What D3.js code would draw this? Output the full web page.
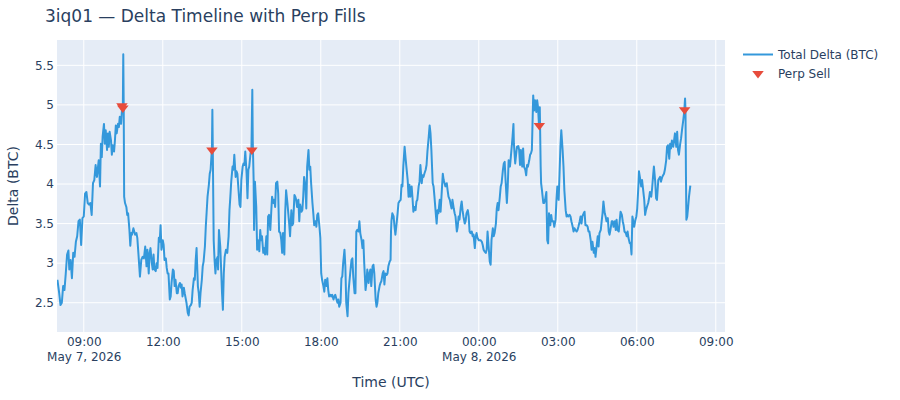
<!DOCTYPE html>
<html>
<head>
<meta charset="utf-8">
<script src="https://cdn.jsdelivr.net/npm/d3@7"></script>
<style>
  body { margin: 0; background: #fff; }
  text { font-family: "DejaVu Sans", verdana, arial, sans-serif; fill: #2a3f5f; }
</style>
</head>
<body>
<div id="chart"></div>
<script>
// time is minutes elapsed since 2026-05-07 08:00 UTC
var startUTC = Date.UTC(2026, 4, 7, 8, 0);

// [elapsed minutes, total delta BTC]
var deltaTrace = [
  [0,2.79],[4,2.62],[7,2.47],[10,2.50],[13,2.71],[16,2.66],[19,2.87],[22,3.11],[25,3.16],[27,2.92],
  [30,3.04],[33,2.81],[36,3.13],[39,3.08],[42,3.27],[45,3.34],[48,3.53],[51,3.55],[54,3.23],[57,3.57],
  [60,3.59],[63,3.88],[66,3.90],[69,3.76],[72,3.74],[75,3.76],[78,3.61],[81,4.01],[84,4.05],[87,4.24],
  [90,4.09],[94,4.30],[97,3.97],[99,4.51],[101,4.34],[103,4.60],[106,4.76],[108,4.51],[110,4.68],[113,4.43],
  [115,4.64],[117,4.47],[119,4.66],[122,4.55],[124,4.37],[126,4.49],[129,4.41],[131,4.55],[133,4.74],[135,4.64],
  [138,4.76],[140,4.72],[142,4.85],[145,4.76],[147,4.93],[149,4.97],[150,5.64],[151,4.97],[152,3.84],[154,3.76],
  [157,3.71],[159,3.61],[161,3.63],[164,3.42],[166,3.22],[168,3.38],[170,3.36],[173,3.44],[175,3.40],[177,3.36],
  [180,3.38],[182,3.32],[185,3.08],[188,2.83],[191,3.04],[194,3.08],[197,3.06],[200,3.21],[203,2.96],[205,3.17],
  [208,2.87],[210,3.13],[212,3.19],[215,3.00],[217,2.92],[219,3.11],[221,2.92],[224,2.90],[226,3.00],[228,2.94],
  [231,3.32],[233,3.27],[235,3.48],[237,3.17],[240,3.29],[242,3.23],[244,3.04],[247,3.06],[249,2.94],[251,2.87],
  [253,2.87],[256,2.54],[258,2.58],[260,2.75],[263,2.92],[265,2.90],[267,2.71],[269,2.79],[272,2.62],[274,2.62],
  [276,2.71],[279,2.75],[281,2.69],[283,2.73],[285,2.58],[288,2.69],[290,2.62],[292,2.56],[294,2.50],[297,2.37],
  [299,2.34],[301,2.45],[304,2.47],[306,2.50],[308,2.66],[311,2.81],[313,2.79],[315,3.04],[317,3.19],[320,2.71],
  [322,2.62],[324,2.45],[326,2.62],[329,2.79],[331,2.96],[333,3.02],[336,3.21],[338,3.46],[340,3.65],[342,3.84],
  [345,3.99],[347,4.13],[349,4.18],[352,4.45],[353,4.94],[354,4.43],[355,3.84],[356,3.29],[358,3.04],[360,2.87],
  [362,3.04],[365,3.08],[366,2.92],[368,3.42],[371,3.21],[373,2.92],[375,2.62],[377,2.41],[379,2.87],[381,3.08],
  [384,3.17],[387,3.13],[390,3.34],[392,3.67],[394,3.84],[396,4.03],[399,4.22],[401,4.18],[403,4.37],[406,4.09],
  [408,4.16],[410,4.13],[412,3.97],[415,3.74],[417,3.71],[419,4.05],[422,4.22],[424,4.26],[426,4.24],[428,4.41],
  [431,4.13],[433,3.82],[435,4.18],[437,4.22],[440,4.39],[442,4.43],[444,5.19],[445,4.55],[447,4.05],[448,3.42],
  [450,4.03],[453,3.71],[455,3.17],[457,3.29],[460,3.15],[462,3.42],[464,3.29],[466,3.34],[469,3.13],[471,3.19],
  [473,3.11],[476,3.34],[478,3.11],[480,3.59],[482,3.61],[485,3.42],[487,3.63],[489,3.84],[492,3.76],[494,3.80],
  [496,3.71],[498,4.01],[501,4.03],[503,3.88],[505,3.40],[508,3.38],[510,3.29],[512,3.13],[514,3.38],[517,3.11],
  [519,3.65],[521,3.92],[524,3.76],[526,3.63],[528,3.50],[530,3.34],[533,3.67],[535,3.48],[537,3.50],[540,3.86],
  [542,3.84],[544,3.80],[546,3.71],[549,3.80],[551,3.53],[553,3.74],[556,3.65],[558,3.67],[560,3.84],[562,4.09],
  [565,3.97],[567,3.69],[569,4.22],[572,4.43],[574,4.18],[576,4.22],[578,4.01],[581,3.76],[583,3.63],[585,3.48],
  [588,3.53],[590,3.46],[592,3.61],[594,3.63],[597,3.46],[599,3.32],[601,2.87],[603,2.79],[606,2.71],[608,2.64],
  [610,2.79],[613,2.71],[615,2.81],[617,2.66],[619,2.58],[622,2.60],[624,2.58],[626,2.60],[629,2.54],[631,2.58],
  [633,2.60],[635,2.56],[638,2.50],[640,2.54],[642,2.45],[645,2.50],[647,2.81],[649,2.83],[651,3.00],[654,3.17],
  [656,2.96],[658,2.50],[661,2.33],[663,2.62],[665,2.75],[667,2.87],[670,3.04],[672,3.06],[674,2.83],[677,2.62],
  [679,2.62],[681,3.40],[683,3.42],[686,3.40],[688,3.53],[690,3.38],[693,3.29],[695,3.19],[697,3.29],[699,3.00],
  [702,2.66],[704,2.75],[706,2.92],[709,2.75],[711,2.87],[713,2.92],[715,2.71],[718,2.96],[720,2.98],[722,2.87],
  [725,2.54],[727,2.45],[729,2.50],[731,2.62],[734,2.71],[736,2.75],[738,2.77],[741,2.87],[743,2.90],[745,2.73],
  [747,2.87],[750,2.85],[752,2.87],[754,2.96],[757,3.02],[759,3.04],[760,3.40],[761,3.53],[763,3.63],[766,3.59],
  [768,3.46],[770,3.36],[772,3.46],[775,3.63],[777,3.76],[779,3.78],[782,3.80],[784,3.99],[786,3.97],[788,4.22],
  [791,4.47],[793,4.34],[795,4.22],[798,4.05],[800,3.84],[802,3.99],[804,3.84],[807,3.97],[809,3.82],[811,3.65],
  [814,3.71],[816,3.67],[818,3.78],[820,3.80],[823,3.97],[825,4.03],[827,4.24],[830,4.01],[832,4.11],[834,4.09],
  [836,4.13],[839,4.18],[841,4.24],[843,4.41],[846,4.60],[848,4.74],[850,4.64],[852,4.43],[855,4.01],[857,3.97],
  [859,3.84],[862,3.63],[864,3.50],[866,3.67],[868,3.63],[871,3.80],[873,3.65],[875,3.84],[878,4.13],[880,4.05],
  [882,4.01],[884,3.97],[887,4.01],[889,3.92],[891,3.84],[894,3.80],[896,3.74],[898,3.69],[900,3.80],[903,3.69],
  [905,3.63],[907,3.59],[910,3.40],[912,3.46],[914,3.59],[916,3.55],[919,3.71],[921,3.78],[923,3.67],[925,3.59],
  [928,3.50],[930,3.53],[932,3.63],[935,3.67],[937,3.59],[939,3.40],[941,3.38],[944,3.40],[946,3.34],[948,3.36],
  [951,3.19],[953,3.34],[955,3.38],[957,3.32],[960,3.29],[962,3.29],[964,3.29],[967,3.27],[969,3.23],[971,3.17],
  [973,3.15],[976,3.13],[978,3.17],[980,3.40],[983,3.17],[985,3.02],[987,2.98],[989,3.29],[992,3.44],[994,3.34],
  [996,3.38],[999,3.50],[1001,3.69],[1003,3.76],[1005,3.67],[1008,3.84],[1010,3.97],[1012,4.01],[1015,4.18],[1017,4.26],
  [1019,4.28],[1021,4.05],[1024,3.76],[1026,3.97],[1028,4.30],[1031,4.22],[1033,4.34],[1035,4.47],[1037,4.60],[1039,4.76],
  [1040,4.51],[1043,4.26],[1045,4.37],[1047,4.47],[1050,4.48],[1052,4.43],[1054,4.24],[1056,4.43],[1059,4.22],[1061,4.45],
  [1063,4.22],[1066,4.18],[1068,4.11],[1070,4.24],[1072,4.22],[1075,4.30],[1077,4.37],[1079,4.39],[1081,4.43],[1084,5.12],
  [1086,4.93],[1088,5.06],[1091,4.91],[1093,5.06],[1095,4.97],[1097,4.76],[1099,4.97],[1101,4.22],[1102,4.01],[1104,3.92],
  [1107,3.76],[1109,3.76],[1111,3.80],[1114,3.90],[1116,3.29],[1118,3.25],[1120,3.63],[1123,3.48],[1125,3.61],[1127,3.53],
  [1130,3.53],[1132,3.46],[1135,3.55],[1137,3.80],[1139,3.97],[1142,3.80],[1144,4.13],[1146,4.47],[1148,4.68],[1151,4.43],
  [1153,4.22],[1155,3.92],[1158,3.67],[1160,3.59],[1162,3.61],[1164,3.59],[1167,3.61],[1169,3.59],[1171,3.53],[1174,3.46],
  [1176,3.40],[1178,3.44],[1180,3.42],[1183,3.40],[1185,3.42],[1187,3.46],[1190,3.53],[1192,3.59],[1194,3.50],[1196,3.59],
  [1199,3.63],[1201,3.65],[1203,3.48],[1206,3.48],[1208,3.46],[1210,3.40],[1212,3.40],[1215,3.29],[1217,3.17],[1219,3.27],
  [1222,3.13],[1224,3.19],[1226,3.08],[1228,3.19],[1231,3.34],[1233,3.21],[1235,3.38],[1238,3.42],[1240,3.53],[1242,3.63],
  [1244,3.78],[1247,3.63],[1249,3.59],[1251,3.53],[1254,3.57],[1256,3.40],[1258,3.36],[1260,3.42],[1263,3.53],[1265,3.53],
  [1267,3.46],[1270,3.53],[1272,3.42],[1274,3.55],[1276,3.42],[1279,3.40],[1281,3.53],[1283,3.65],[1286,3.61],[1288,3.53],
  [1290,3.48],[1292,3.40],[1295,3.38],[1297,3.34],[1299,3.40],[1301,3.32],[1304,3.25],[1306,3.25],[1308,3.11],[1310,3.59],
  [1312,3.53],[1314,3.46],[1317,3.55],[1319,3.59],[1321,3.69],[1324,4.01],[1325,4.16],[1327,4.09],[1330,3.97],[1332,4.05],
  [1334,3.95],[1337,3.80],[1339,3.61],[1341,3.67],[1343,3.71],[1346,3.76],[1348,3.82],[1350,3.90],[1353,3.84],[1355,3.95],
  [1357,4.09],[1359,4.22],[1362,4.03],[1364,3.82],[1366,3.80],[1369,4.05],[1371,4.07],[1373,4.09],[1375,4.03],[1378,4.09],
  [1380,4.11],[1382,4.13],[1384,4.18],[1387,4.30],[1389,4.47],[1391,4.49],[1394,4.32],[1396,4.51],[1398,4.45],[1400,4.55],
  [1403,4.47],[1405,4.55],[1407,4.64],[1410,4.47],[1412,4.66],[1414,4.43],[1416,4.37],[1419,4.51],[1421,4.58],[1423,4.68],
  [1426,4.81],[1428,4.91],[1430,5.08],[1431,4.93],[1432,4.13],[1433,3.55],[1435,3.59],[1437,3.71],[1439,3.84],[1442,3.98]
];

// perp sell fills
var sellMin = [147, 149, 352, 443, 1098, 1429];
var sellDelta = [4.99, 4.96, 4.43, 4.43, 4.74, 4.94];

var yTicks = [2.5, 3, 3.5, 4, 4.5, 5, 5.5];
var xRangeMin = [-1, 1521];
var yRange = [2.13, 5.82];

var titleText = "3iq01 \u2014 Delta Timeline with Perp Fills";
var legendNames = ["Total Delta (BTC)", "Perp Sell"];
var lineColor = "#3498db";
var sellColor = "#e74c3c";

var max_w = 900, max_h = 400;
var margin = {top: 40, right: 175, bottom: 68, left: 57};
var width = max_w - margin.left - margin.right;
var height = max_h - margin.top - margin.bottom;

function toDate(m) { return new Date(startUTC + m * 60000); }

var x = d3.scaleUtc()
          .domain(xRangeMin.map(toDate))
          .range([0, width]);

var y = d3.scaleLinear()
          .domain(yRange)
          .range([height, 0]);

var root = d3.select("#chart")
  .append("svg")
    .attr("width", max_w)
    .attr("height", max_h);

root.append("rect")
    .attr("width", max_w).attr("height", max_h)
    .attr("fill", "#fff");

root.append("text")
    .attr("x", 45).attr("y", 21.5)
    .style("font-size", "17px")
    .text(titleText);

var svg = root.append("g")
    .attr("transform", "translate(" + margin.left + "," + margin.top + ")");

svg.append("rect")
    .attr("width", width).attr("height", height)
    .attr("fill", "#E5ECF6");

var xTicks = x.ticks(d3.utcHour.every(3));

svg.append("g").selectAll("line")
  .data(xTicks).join("line")
    .attr("x1", d => x(d)).attr("x2", d => x(d))
    .attr("y1", 0).attr("y2", height)
    .attr("stroke", "#fff").attr("stroke-width", 1);

svg.append("g").selectAll("line")
  .data(yTicks).join("line")
    .attr("x1", 0).attr("x2", width)
    .attr("y1", d => y(d)).attr("y2", d => y(d))
    .attr("stroke", "#fff").attr("stroke-width", 1);

// x axis with date on a second line
var gx = svg.append("g")
    .attr("transform", "translate(0," + height + ")")
    .call(d3.axisBottom(x).tickValues(xTicks).tickSize(0).tickPadding(5)
            .tickFormat(d3.utcFormat("%H:%M")));
gx.select(".domain").remove();
gx.selectAll("text")
    .style("font-size", "12px").attr("fill", null)
    .each(function(d, i) {
      if (i === 0 || d.getUTCHours() === 0) {
        d3.select(this).append("tspan")
          .attr("x", 0).attr("dy", "1.3em")
          .text(d3.utcFormat("%b %-d, %Y")(d));
      }
    });

var gy = svg.append("g")
    .call(d3.axisLeft(y).tickValues(yTicks).tickSize(0).tickPadding(3)
            .tickFormat(d => String(d)));
gy.select(".domain").remove();
gy.selectAll("text").style("font-size", "12px").attr("fill", null);

root.append("text")
    .attr("x", margin.left + width / 2).attr("y", 387)
    .attr("text-anchor", "middle")
    .style("font-size", "14px")
    .text("Time (UTC)");

root.append("text")
    .attr("transform", "translate(17.5," + (margin.top + height / 2) + ") rotate(-90)")
    .attr("text-anchor", "middle")
    .style("font-size", "14px")
    .text("Delta (BTC)");

svg.append("clipPath").attr("id", "plotclip")
  .append("rect").attr("width", width).attr("height", height);

svg.append("path")
    .datum(deltaTrace)
    .attr("clip-path", "url(#plotclip)")
    .attr("fill", "none")
    .attr("stroke", lineColor)
    .attr("stroke-width", 2)
    .attr("stroke-linejoin", "round")
    .attr("d", d3.line()
      .x(function(d) { return x(toDate(d[0])); })
      .y(function(d) { return y(d[1]); }));

var triDown = "M-5.77,-2.5H5.77L0,5Z";

svg.append("g").selectAll("path")
  .data(sellMin).join("path")
    .attr("d", triDown)
    .attr("fill", sellColor)
    .attr("transform", (d, i) => "translate(" + x(toDate(d)) + "," + y(sellDelta[i]) + ")");

// legend
var lg = root.append("g").attr("transform", "translate(743,54.5)");
lg.append("line")
    .attr("x1", 0).attr("x2", 30).attr("y1", 0).attr("y2", 0)
    .attr("stroke", lineColor).attr("stroke-width", 2);
lg.append("text").attr("x", 35).attr("y", 4.2)
    .style("font-size", "12px").text(legendNames[0]);
lg.append("path").attr("d", triDown).attr("fill", sellColor)
    .attr("transform", "translate(15,19)");
lg.append("text").attr("x", 35).attr("y", 23.2)
    .style("font-size", "12px").text(legendNames[1]);
</script>
</body>
</html>
